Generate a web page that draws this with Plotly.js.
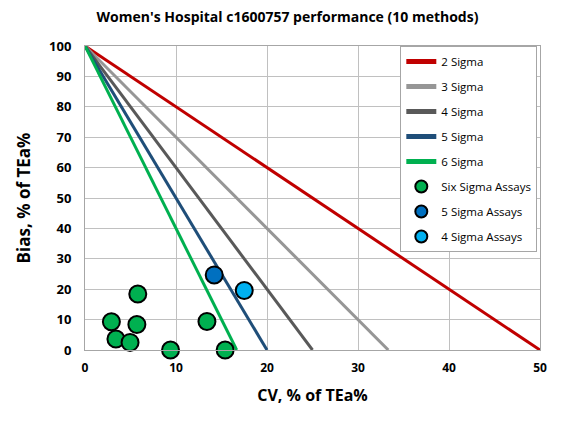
<!DOCTYPE html>
<html>
<head>
<meta charset="utf-8">
<script src="https://cdn.plot.ly/plotly-3.0.1.min.js"></script>
<style>
  html, body { margin: 0; padding: 0; background: #fff; }
  #plot { width: 575px; height: 423px; }
</style>
</head>
<body>
<div id="plot"></div>
<script>
// sigma lines: each one runs from (0,100) down to its x intercept
var sigmaNames = ['2 Sigma', '3 Sigma', '4 Sigma', '5 Sigma', '6 Sigma'];
var sigmaIntercept = [50, 33.33, 25, 20, 16.67];
var sigmaColors = ['#c00000', '#969696', '#595959', '#1f4e79', '#00b050'];

// assays
var sixX = [2.9, 3.4, 4.95, 5.7, 5.8, 9.4, 13.4, 15.4];
var sixY = [9.3, 3.6, 2.5, 8.4, 18.4, 0, 9.4, 0];
var fiveX = [14.2];
var fiveY = [24.7];
var fourX = [17.5];
var fourY = [19.6];

var pointSets = [
  {name: 'Six Sigma Assays', x: sixX, y: sixY, color: '#00b050'},
  {name: '5 Sigma Assays', x: fiveX, y: fiveY, color: '#0070c0'},
  {name: '4 Sigma Assays', x: fourX, y: fourY, color: '#00b0f0'}
];

var data = [];
for (var i = 0; i < sigmaNames.length; i++) {
  data.push({
    x: [0, sigmaIntercept[i]],
    y: [100, 0],
    name: sigmaNames[i],
    legendgroup: 'g' + i,
    type: 'scatter',
    mode: 'lines',
    line: {color: sigmaColors[i], width: 3},
    cliponaxis: false
  });
}
pointSets.forEach(function (p, j) {
  data.push({
    x: p.x,
    y: p.y,
    name: p.name,
    legendgroup: 'p' + j,
    type: 'scatter',
    mode: 'markers',
    marker: {color: p.color, size: 17, line: {color: '#000', width: 2}},
    cliponaxis: false
  });
});

var font = 'Open Sans, Liberation Sans, sans-serif';

var layout = {
  width: 575,
  height: 423,
  margin: {l: 85, r: 35, t: 46, b: 73},
  paper_bgcolor: '#fff',
  plot_bgcolor: '#fff',
  font: {family: font, color: '#000'},
  title: {
    text: "<b>Women's Hospital c1600757 performance (10 methods)</b>",
    font: {size: 14, color: '#000'},
    x: 0.5,
    xanchor: 'center',
    y: 0.96,
    yanchor: 'middle'
  },
  xaxis: {
    range: [0, 50],
    dtick: 10,
    showgrid: true,
    gridcolor: '#c0c0c0',
    showline: true,
    linecolor: '#a6a6a6',
    mirror: true,
    zeroline: false,
    ticks: '',
    ticklabelstandoff: 7,
    tickfont: {size: 12, color: '#000', weight: 'bold'},
    title: {text: '<b>CV, % of TEa%</b>', font: {size: 16, color: '#000'}, standoff: 14}
  },
  yaxis: {
    range: [0, 100],
    dtick: 10,
    showgrid: true,
    gridcolor: '#c0c0c0',
    showline: true,
    linecolor: '#a6a6a6',
    mirror: true,
    zeroline: false,
    ticks: '',
    ticklabelstandoff: 10,
    tickfont: {size: 13, color: '#000', weight: 'bold'},
    title: {text: '<b>Bias, % of TEa%</b>', font: {size: 17, color: '#000'}, standoff: 14}
  },
  showlegend: true,
  legend: {
    x: 0.693,
    y: 1,
    xanchor: 'left',
    yanchor: 'top',
    bgcolor: '#fff',
    bordercolor: '#a6a6a6',
    borderwidth: 1,
    font: {size: 11.5, color: '#000'},
    tracegroupgap: 6,
    itemsizing: 'constant',
    itemwidth: 30
  }
};

Plotly.newPlot('plot', data, layout, {staticPlot: true});
</script>
</body>
</html>
